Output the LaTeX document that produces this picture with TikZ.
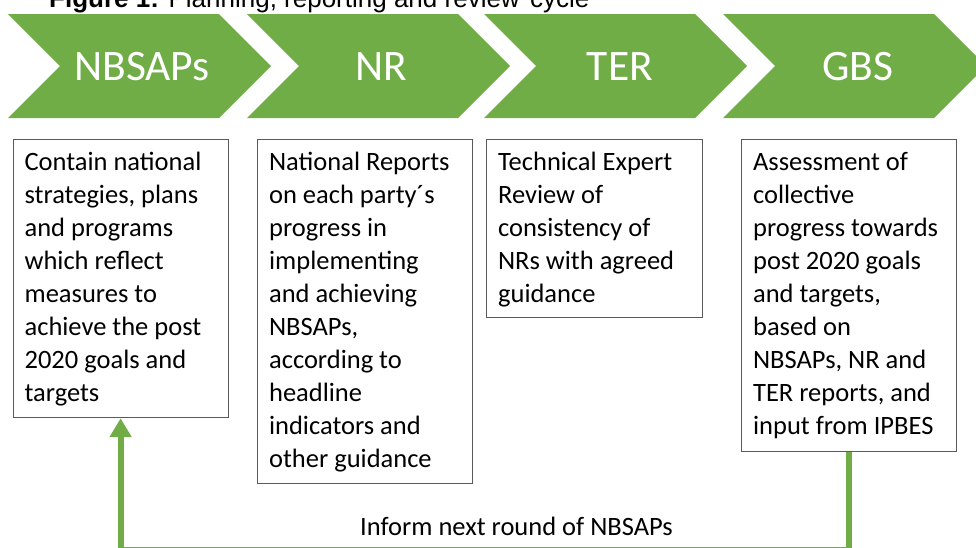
\documentclass[tikz,border=0pt]{standalone}
\usepackage{fontspec}
\setmainfont{Carlito}
\newfontfamily\titlefont{Liberation Sans}
\usetikzlibrary{arrows.meta}
\definecolor{leaf}{HTML}{70AD47}
\definecolor{frame}{HTML}{5A5A5A}
% box body: width, height, lines (first baseline 31pt below the top edge)
\newcommand\boxlines[3]{\parbox[t][#2][t]{#1}{\rule{0pt}{31pt}#3}}

\begin{document}
\begin{tikzpicture}[x=1pt,y=-1pt,
  stage/.style={text=white, font=\fontsize{43.5pt}{52pt}\selectfont, inner sep=0pt, anchor=base},
  infobox/.style={draw=frame, line width=1.2pt, fill=white, anchor=north west,
    inner xsep=11.5pt, inner ysep=0pt, font=\fontsize{26.5pt}{33pt}\selectfont},
  feedback/.style={draw=leaf, line width=6pt},
  caption/.style={inner sep=0pt, font=\titlefont\fontsize{26pt}{30pt}\selectfont, anchor=base west},
  note/.style={inner sep=0pt, anchor=base, font=\fontsize{26.5pt}{33pt}\selectfont},
]
\useasboundingbox (0,0) rectangle (976,547);

% heading
\node[caption] (title) at (49,7.5) {\textbf{Figure 1:} Planning, reporting and review\hspace{0.4em}cycle};

% process chevrons
\foreach \L in {8,247,484,723}
  \fill[leaf] (\L,14) -- ++(211,0) -- ++(52,52) -- ++(-52,52) -- ++(-211,0) -- ++(52,-52) -- cycle;

\node[stage] (nbsaps) at (142,80) {NBSAPs};
\node[stage] (nr)     at (381,80) {NR};
\node[stage] (ter)    at (620,80) {TER};
\node[stage] (gbs)    at (858,80) {GBS};

% descriptions
\node[infobox] (b1) at (12.5,139) {\boxlines{192pt}{278pt}{%
  Contain national\\strategies, plans\\and programs\\which reflect\\measures to\\achieve the post\\2020 goals and\\targets}};
\node[infobox] (b2) at (257,139) {\boxlines{192pt}{344pt}{%
  National Reports\\on each party´s\\progress in\\implementing\\and achieving\\NBSAPs,\\according to\\headline\\indicators and\\other guidance}};
\node[infobox] (b3) at (486,139) {\boxlines{193pt}{178pt}{%
  Technical Expert\\Review of\\consistency of\\NRs with agreed\\guidance}};
\node[infobox] (b4) at (741,139) {\boxlines{192pt}{312pt}{%
  Assessment of\\collective\\progress towards\\post 2020 goals\\and targets,\\based on\\NBSAPs, NR and\\TER reports, and\\input from IPBES}};

% feedback loop back to the start
\draw[feedback, -{Triangle[width=21pt,length=19pt]}] (b4.south) -- ++(0,97.5) -| (b1.south);
\node[note] (inform) at (516.5,535.5) {Inform next round of NBSAPs};
\end{tikzpicture}
\end{document}
